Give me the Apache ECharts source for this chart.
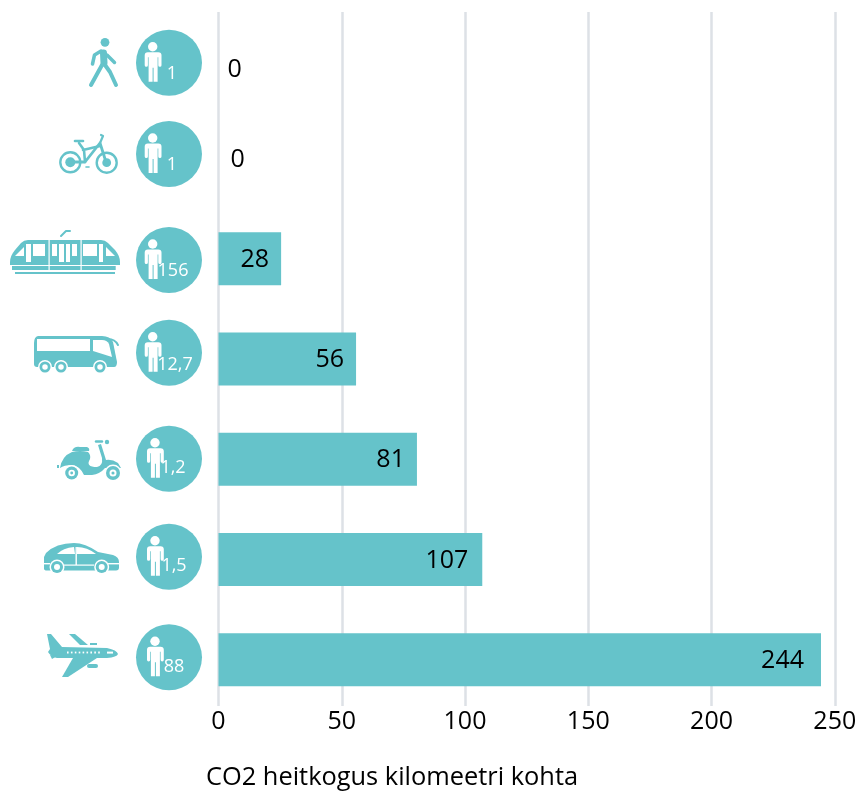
<!DOCTYPE html>
<html>
<head>
<meta charset="utf-8">
<style>
html, body { margin: 0; padding: 0; background: #fff; }
#chart { width: 860px; height: 791px; }
</style>
<script src="https://cdn.jsdelivr.net/npm/echarts@6/dist/echarts.min.js"></script>
</head>
<body>
<div id="chart"></div>
<script>
// Values
var modes = ['jalgsi', 'jalgratas', 'tramm', 'buss', 'mootorratas', 'auto', 'lennuk'];
var barLengths = [0, 0, 25.4, 55.8, 80.5, 107, 244.4];
var printedValues = ['0', '0', '28', '56', '81', '107', '244'];
var riders = ['1', '1', '156', '12,7', '1,2', '1,5', '88'];
var xTicks = [0, 50, 100, 150, 200, 250];
var axisTitle = 'CO2 heitkogus kilomeetri kohta';

var TEAL = '#65c3ca';
var FONT = '"Open Sans"';

var graphics = [];

function fill(d, color) {
    graphics.push({ type: 'path', shape: { pathData: d }, style: { fill: color || TEAL }, silent: true });
}
function line(d, width, color) {
    graphics.push({ type: 'path', shape: { pathData: d }, silent: true,
        style: { fill: 'none', stroke: color || TEAL, lineWidth: width, lineCap: 'round', lineJoin: 'round' } });
}
function dot(cx, cy, r, color) {
    graphics.push({ type: 'circle', shape: { cx: cx, cy: cy, r: r }, style: { fill: color || TEAL }, silent: true });
}
function box(x, y, w, h, color) {
    graphics.push({ type: 'rect', shape: { x: x, y: y, width: w, height: h }, style: { fill: color || '#fff' }, silent: true });
}
function wheel(cx, cy, r, hub) {
    dot(cx, cy, r + 1.5, '#fff');
    dot(cx, cy, r);
    dot(cx, cy, r * 0.5, '#fff');
    if (hub) dot(cx, cy, r * 0.22);
}

// Circle with the little person and the rider count
var badges = [
    { cx: 169, cy: 62.7, px: 152.7, tx: 172, ty: 74 },
    { cx: 169, cy: 154, px: 152.7, tx: 172, ty: 165 },
    { cx: 169, cy: 260, px: 152.7, tx: 173, ty: 271 },
    { cx: 169, cy: 352.7, px: 152.7, tx: 175, ty: 365 },
    { cx: 169, cy: 458.7, px: 155, tx: 173, ty: 468 },
    { cx: 169, cy: 556.7, px: 155, tx: 174, ty: 566 },
    { cx: 169, cy: 657.3, px: 155, tx: 174, ty: 667 }
];
badges.forEach(function (b, i) {
    dot(b.cx, b.cy, 33);
    var y = b.cy - 16;
    var x = b.px;
    dot(x, y, 4.7, '#fff');
    fill('M' + (x - 5.6) + ' ' + (y + 5.5) + 'h11.2q3.2 0 3.2 3v10a1.6 1.6 0 0 1 -3.2 0v-8h-.7v24.5h-4v-14h-1v14h-4v-24.5h-.7v8a1.6 1.6 0 0 1 -3.2 0v-10q0 -3 3.2 -3z', '#fff');
    graphics.push({ type: 'text', x: b.tx, y: b.ty, silent: true,
        style: { text: riders[i], fill: '#fff', font: '400 18px ' + FONT, align: 'center', verticalAlign: 'middle' } });
});

// Walker
dot(105, 42.3, 4.4);
line('M103.5 53L104 63', 7);
line('M101 51L94.5 55 92.5 64', 3.5);
line('M107 55L114.5 62.5', 3.5);
line('M102 65L91 85', 4);
line('M105 65L110 72 116 85', 4);

// Bicycle
[[70.3, 162.3, 5], [106.7, 162.7, 4.4]].forEach(function (w) {
    line('M' + (w[0] - 10) + ' ' + w[1] + 'a10 10 0 1 0 20 0a10 10 0 1 0 -20 0', 2.4);
    dot(w[0], w[1], w[2]);
});
line('M70 162L85 162 100 143 106 162', 2.8);
line('M79 143L84 150 85 162M83 150L100 146', 2.6);
line('M75 141H83', 2.6);
line('M100 143L103 136 101 135', 2.2);
line('M86 167H89', 1.6);

// Tram
fill('M10 262q0 -6 5 -12l6 -7q3 -3 7 -3h73q4 0 7 3l7 7q5 6 5 12v3H10z');
fill('M15 256L24 247V256z', '#fff');
box(26, 244, 5, 18);
box(33, 244, 12, 12);
box(52, 244, 5, 12);
box(59, 244, 5, 18);
box(66, 244, 4, 18);
box(72, 244, 5, 12);
box(83, 244, 14, 12);
box(99, 244, 4, 18);
fill('M106 247L115 256H106z', '#fff');
box(48.5, 240, 1.2, 30);
box(80.5, 240, 1.2, 30);
box(12, 266, 36.5, 4, TEAL);
box(49.7, 266, 30.8, 4, TEAL);
box(81.7, 266, 34, 4, TEAL);
box(15, 272, 100, 2, TEAL);
line('M61 236L66 231H70', 2);

// Bus
fill('M38 336h64q8 0 11 6l4 20q0 5 -3 5H37q-3 0 -3 -3v-21q0 -6 4 -7z');
box(37, 339, 53, 12);
fill('M93 340h9q5 0 7 4l3 13 -19 -6z', '#fff');
line('M108 339q7 0 10 6', 2);
wheel(45, 367, 5.5);
wheel(61, 367, 5.5);
wheel(100, 367, 5.5);

// Scooter
fill('M60 468Q62 456 72 452Q80 450 88 452Q91 455 90 459Q85 467 97 467Q103 466 102 458L98 445L101 444L106 460Q112 459 118 463L121 468H105Q100 474 92 475H84Q80 466 72 465Q64 465 60 468Z');
fill('M72 451Q74 446 80 447H87Q90 448 89 451Z');
line('M96 441.5H102', 2.4);
dot(107, 442, 2.2);
box(57, 465, 2, 3, TEAL);
wheel(71.7, 473, 6.5, true);
wheel(113, 473, 7, true);

// Car
fill('M46 553q10 -10 28 -10q11 0 24 9l15 3q6 2 6 7v5.5q0 3 -3 3H47q-3 0 -3 -2V557z');
fill('M57 554q6 -6 17 -7l1 7z', '#fff');
fill('M77 547q10 0 19 7H77z', '#fff');
box(75.5, 547, 1.4, 18);
box(44, 563, 6, 1.4);
box(108, 563, 11, 1.4);
box(64, 564.5, 30, 1.2);
wheel(57, 567, 6);
wheel(101.7, 567, 6);

// Plane
fill('M47 634h4l11 13 45 1q10 2 11 6q-1 3 -11 4H57q-6 -1 -9 -6l2 -3z');
fill('M69 634h6l13 11h-8z');
fill('M73 658H97L68 677H62z');
fill('M50 655l7 1 -5 3z');
fill('M90 643h7v2h-7z');
line('M89 666H96', 4);
for (var wx = 67; wx <= 101; wx += 3.9) {
    box(wx, 651.6, 1.6, 1.8);
}
box(107, 651.6, 6, 2);

var chart = echarts.init(document.getElementById('chart'));

chart.setOption({
    animation: false,
    backgroundColor: '#fff',
    title: {
        text: axisTitle,
        left: 206,
        top: 765,
        padding: 0,
        textStyle: { fontFamily: FONT, fontSize: 25.4, fontWeight: 400, color: '#000' }
    },
    grid: [
        { left: 218.5, right: 25.2, top: 8, height: 702 },
        { left: 218.5, right: 25.2, top: 12, height: 694 }
    ],
    xAxis: [
        { gridIndex: 0, type: 'value', min: 0, max: 250, interval: 50, show: false },
        {
            gridIndex: 1, type: 'value', min: xTicks[0], max: xTicks[xTicks.length - 1], interval: 50,
            axisLine: { show: false },
            axisTick: { show: false },
            axisLabel: { margin: 3, fontFamily: FONT, fontSize: 25, color: '#000' },
            splitLine: { show: true, lineStyle: { color: '#dde1e6', width: 2.5 } }
        }
    ],
    yAxis: [
        { gridIndex: 0, type: 'category', data: modes, inverse: true, show: false },
        { gridIndex: 1, type: 'category', data: modes, inverse: true, show: false }
    ],
    series: [{
        type: 'bar',
        xAxisIndex: 0,
        yAxisIndex: 0,
        barWidth: 53,
        itemStyle: { color: TEAL },
        data: barLengths.map(function (v, i) {
            var label = { position: 'insideRight', distance: i === 6 ? 17 : (i < 4 ? 12 : 14), offset: [0, 1] };
            if (i === 4) label.distance = 12;
            if (v === 0) {
                label = { position: 'right', distance: i === 0 ? 9 : 12, offset: [0, i === 0 ? 12 : 1] };
            }
            return { value: v, label: label };
        }),
        label: {
            show: true,
            fontFamily: FONT,
            fontSize: 25,
            color: '#000',
            formatter: function (p) { return printedValues[p.dataIndex]; }
        }
    }, {
        // pictograms and rider badges left of the axis
        type: 'custom',
        coordinateSystem: 'none',
        silent: true,
        data: [[0]],
        renderItem: function () {
            return { type: 'group', children: graphics };
        }
    }]
});
</script>
</body>
</html>
